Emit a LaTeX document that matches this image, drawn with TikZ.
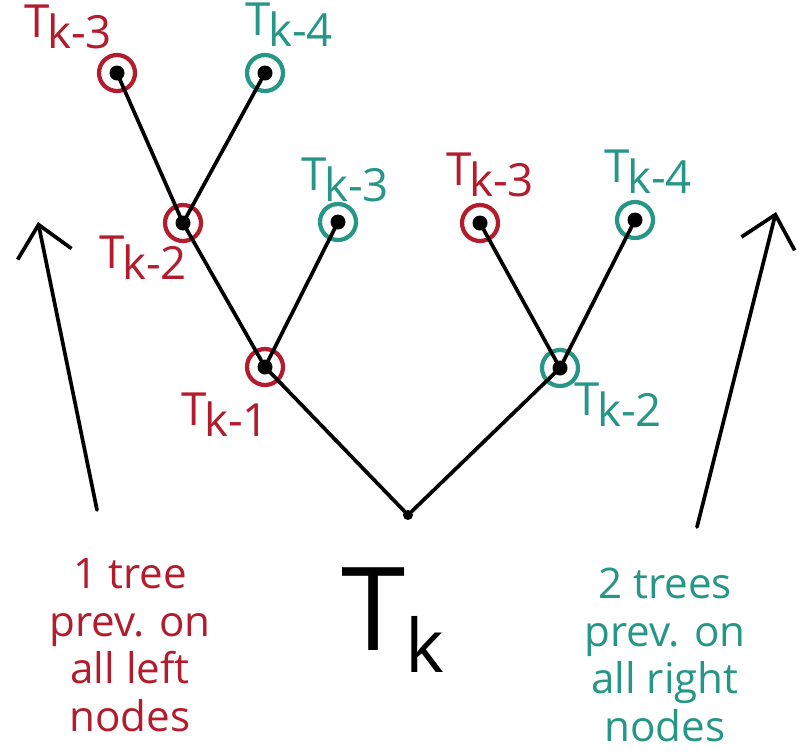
\documentclass[tikz,border=0pt]{standalone}
\usepackage{fontspec}
\setmainfont{Open Sans}
\usetikzlibrary{arrows.meta}

\definecolor{treered}{RGB}{178,28,44}
\definecolor{treeteal}{RGB}{38,150,134}

\newcommand{\tsub}[1]{T\raisebox{-0.45ex}{\kern-0.05em k-#1}}

\begin{document}
\begin{tikzpicture}[x=0.02cm, y=-0.02cm,
  ink/.style={line width=2.1pt, line cap=round},
  ring/.style={circle, draw, line width=2.4pt, minimum size=0.72cm, inner sep=0pt},
  lab/.style={font=\fontsize{26}{30}\selectfont, inner sep=1pt},
  note/.style={font=\fontsize{24}{27}\selectfont, align=center, inner sep=1pt},
  bigarrow/.style={ink, -{Straight Barb[length=6mm, width=11mm]}}]
  \useasboundingbox (0, 0) rectangle (803, 754);
  % rings of the tree
  \node[ring, treered]  (l1)  at (265, 367) {};
  \node[ring, treeteal] (r1)  at (560, 368) {};
  \node[ring, treered]  (l2)  at (183, 223) {};
  \node[ring, treeteal] (l2r) at (338, 222) {};
  \node[ring, treered]  (l3l) at (117, 73) {};
  \node[ring, treeteal] (l3r) at (265, 73) {};
  \node[ring, treered]  (r1l) at (480, 223) {};
  \node[ring, treeteal] (r1r) at (635, 220) {};
  \coordinate (root) at (408, 515);
  % edges
  \foreach \a/\b in {root/l1, root/r1, l1/l2, l1/l2r, l2/l3l, l2/l3r, r1/r1l, r1/r1r}
    \draw[ink] (\a.center) -- (\b.center);
  \foreach \n in {l1, r1, l2, l2r, l3l, l3r, r1l, r1r}
    \fill (\n.center) circle (7.5);
  \fill (root) circle (5);
  % labels
  \node[lab, treered]  (tl3l) at (68, 27)   {\tsub{3}};
  \node[lab, treeteal] (tl3r) at (289, 25)  {\tsub{4}};
  \node[lab, treeteal] (tl2r) at (345, 180) {\tsub{3}};
  \node[lab, treered]  (tl2)  at (143, 258) {\tsub{2}};
  \node[lab, treered]  (tr1l) at (490, 175) {\tsub{3}};
  \node[lab, treeteal] (tr1r) at (648, 172) {\tsub{4}};
  \node[lab, treered]  (tl1)  at (225, 415) {\tsub{1}};
  \node[lab, treeteal] (tr1)  at (618, 405) {\tsub{2}};
  \node[font=\fontsize{66}{70}\selectfont, inner sep=0pt] (tk) at (393, 620)
    {T\raisebox{-0.35ex}{\fontsize{42}{44}\selectfont k}};
  % side notes
  \node[note, treered]  (leftnote)  at (130, 645) {1 tree\\prev. on\\all left\\nodes};
  \node[note, treeteal] (rightnote) at (665, 655) {2 trees\\prev. on\\all right\\nodes};
  \coordinate (la-s) at (97, 510);
  \coordinate (la-e) at (38, 222);
  \coordinate (ra-s) at (697, 527);
  \coordinate (ra-e) at (776, 212);
  \draw[bigarrow] (la-s) -- (la-e);
  \draw[bigarrow] (ra-s) -- (ra-e);
\end{tikzpicture}
\end{document}
